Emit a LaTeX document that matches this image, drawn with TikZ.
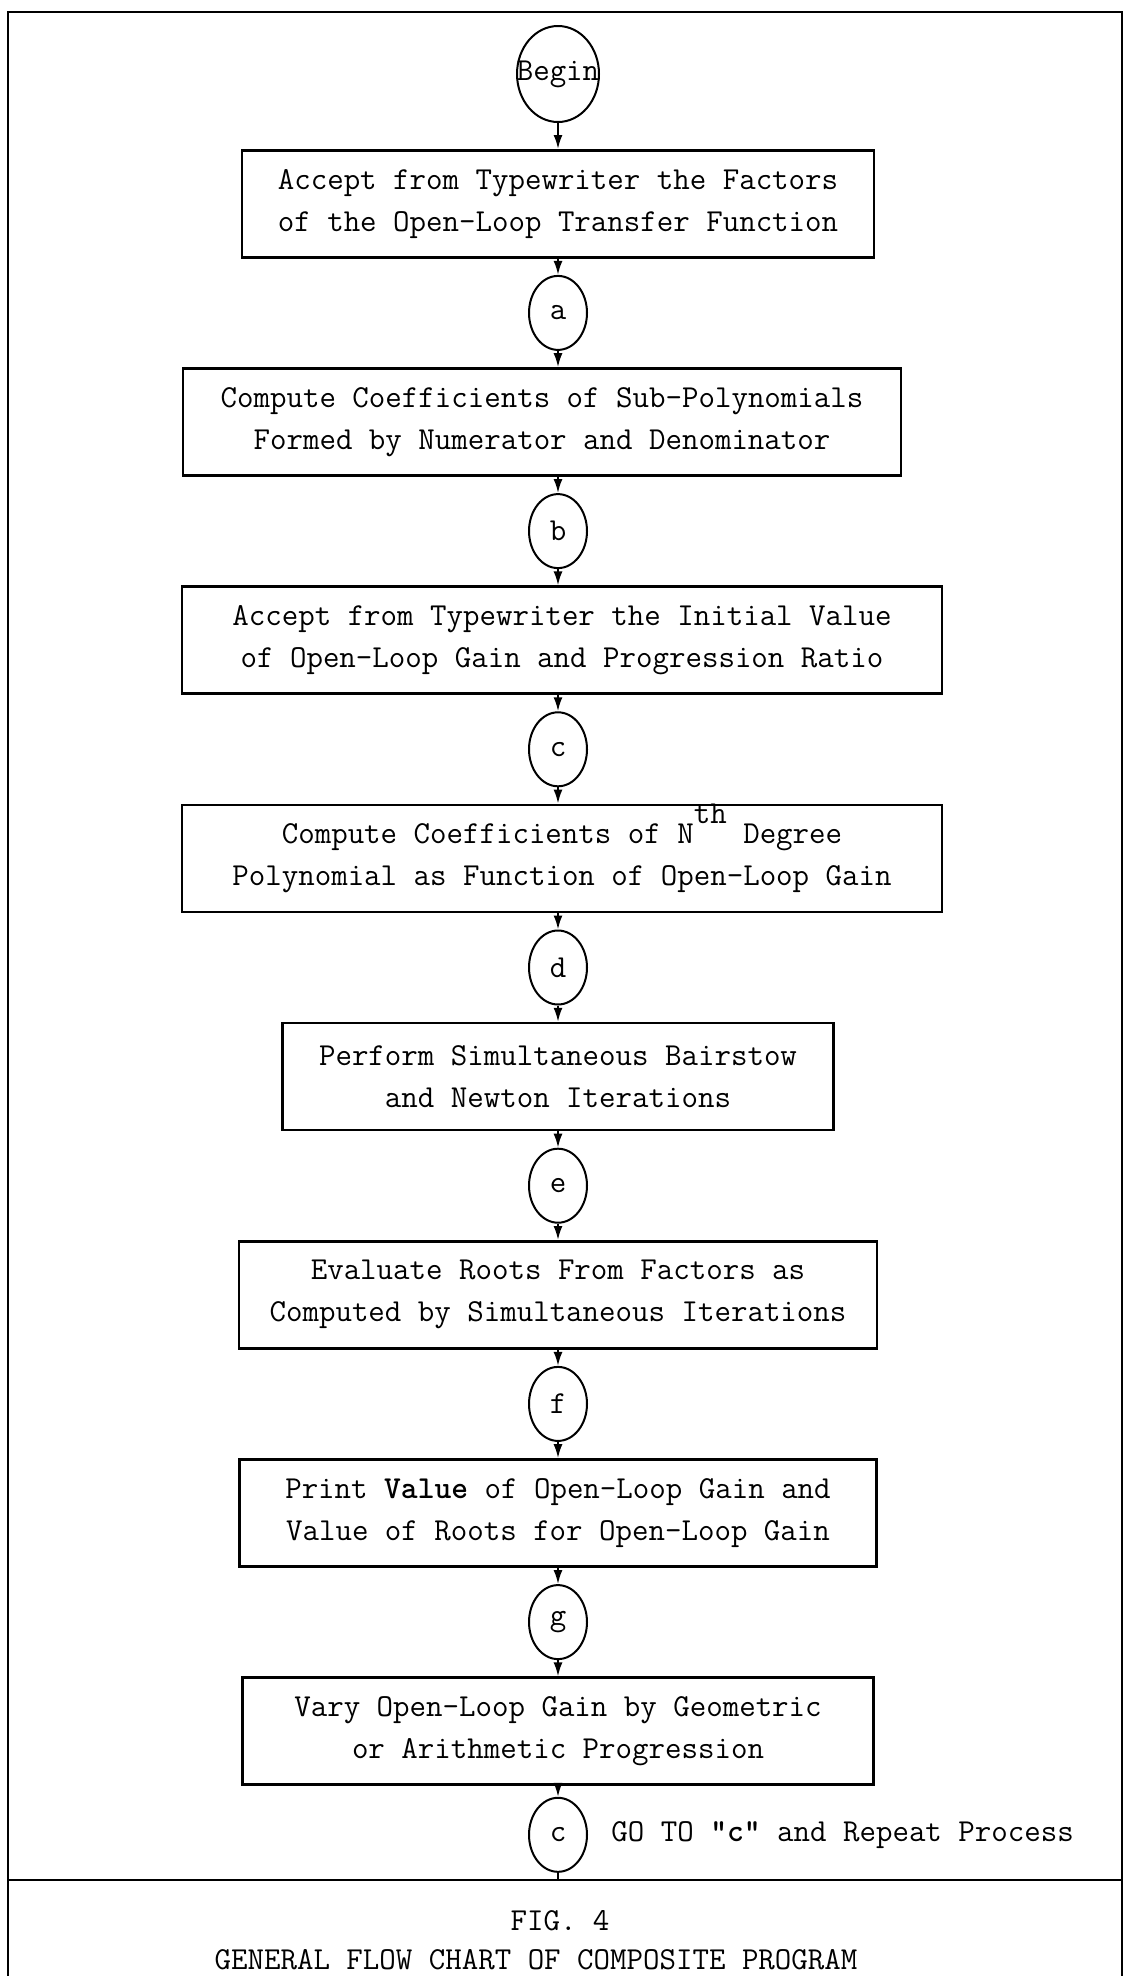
\documentclass[tikz,border=0pt]{standalone}
\usepackage{tikz}
\usetikzlibrary{positioning}
\usetikzlibrary{shapes.geometric}
\usetikzlibrary{arrows.meta}

\begin{document}
\begin{tikzpicture}[
	node distance=8.15pt,
	every node/.style={font=\ttfamily\fontsize{16}{21}\selectfont},
	process/.style={draw, line width=1.3pt, align=center, minimum height=53.5pt},
	connector/.style={ellipse, draw, line width=1pt, inner sep=0pt, minimum width=29pt, minimum height=37pt},
	flow/.style={-{Latex[length=7pt,width=4.5pt]}, line width=1pt},
	frame/.style={line width=1.3pt}
	]
	\useasboundingbox (0,0) rectangle (564pt,-988pt);
	
	% Frame
	\draw [frame] (4pt,-988pt) -- (4pt,-6pt) -- (561pt,-6pt) -- (561pt,-988pt);
	\draw [frame] (4pt,-940pt) coordinate (divL) -- (561pt,-940pt) coordinate (divR);
	
	% Begin
	\node [connector, minimum width=41pt, minimum height=48pt] at (279pt,-37pt) (0Begin) {\makebox[0pt]{Begin}};
	
	% Steps 1 & 2
	\node [process, minimum width=316pt, below=13pt of 0Begin] (1Factors) {Accept from Typewriter the Factors\\of the Open-Loop Transfer Function};
	\node [connector, below=of 1Factors] (1a) {a};
	\node [process, minimum width=359pt, below=of 1a, xshift=-8pt] (2Subpoly) {Compute Coefficients of Sub-Polynomials\\Formed by Numerator and Denominator};
	\node [connector, below=of 2Subpoly, xshift=8pt] (2b) {b};
	
	% Steps 3 & 4
	\node [process, minimum width=380pt, below=of 2b, xshift=2pt] (3Initial) {Accept from Typewriter the Initial Value\\of Open-Loop Gain and Progression Ratio};
	\node [connector, below=of 3Initial, xshift=-2pt] (3c) {c};
	\node [process, minimum width=380pt, below=of 3c, xshift=2pt] (4Nth) {Compute Coefficients of N\smash{\raisebox{10pt}{th}} Degree\\Polynomial as Function of Open-Loop Gain};
	\node [connector, below=of 4Nth, xshift=-2pt] (4d) {d};
	
	% Steps 5 & 6
	\node [process, minimum width=275.5pt, below=of 4d] (5Bairstow) {Perform Simultaneous Bairstow\\and Newton Iterations};
	\node [connector, below=of 5Bairstow] (5e) {e};
	\node [process, minimum width=319pt, below=of 5e] (6Roots) {Evaluate Roots From Factors as\\Computed by Simultaneous Iterations};
	\node [connector, below=of 6Roots] (6f) {f};
	
	% Steps 7 & 8
	\node [process, minimum width=318.5pt, below=of 6f] (7Print) {Print \textbf{Value} of Open-Loop Gain and\\Value of Roots for Open-Loop Gain};
	\node [connector, below=of 7Print] (7g) {g};
	\node [process, minimum width=315.5pt, below=of 7g] (8Vary) {Vary Open-Loop Gain by Geometric\\or Arithmetic Progression};
	\node [connector, below=5.4pt of 8Vary] (8c) {c};
	\node [inner sep=0pt, right=11.5pt of 8c] (8goto) {GO TO \textbf{"c"} and Repeat Process};
	
	% Caption
	\node [anchor=base] at (280pt,-965pt) (figno) {FIG. 4};
	\node [anchor=base, xshift=-12pt] at ([yshift=-19.5pt]figno.base) (figtitle) {GENERAL FLOW CHART OF COMPOSITE PROGRAM};
	
	% Connections
	\draw [flow] (0Begin) -- (0Begin |- 1Factors.north);
	\draw [flow] (1Factors.south -| 1a) -- (1a);
	\draw [flow] (1a) -- (1a |- 2Subpoly.north);
	\draw [flow] (2Subpoly.south -| 2b) -- (2b);
	\draw [flow] (2b) -- (2b |- 3Initial.north);
	\draw [flow] (3Initial.south -| 3c) -- (3c);
	\draw [flow] (3c) -- (3c |- 4Nth.north);
	\draw [flow] (4Nth.south -| 4d) -- (4d);
	\draw [flow] (4d) -- (4d |- 5Bairstow.north);
	\draw [flow] (5Bairstow.south -| 5e) -- (5e);
	\draw [flow] (5e) -- (5e |- 6Roots.north);
	\draw [flow] (6Roots.south -| 6f) -- (6f);
	\draw [flow] (6f) -- (6f |- 7Print.north);
	\draw [flow] (7Print.south -| 7g) -- (7g);
	\draw [flow] (7g) -- (7g |- 8Vary.north);
	\draw [flow] (8Vary.south -| 8c) -- (8c);
	\draw [line width=1pt] (8c) -- (8c |- divL);
	
\end{tikzpicture}
\end{document}
